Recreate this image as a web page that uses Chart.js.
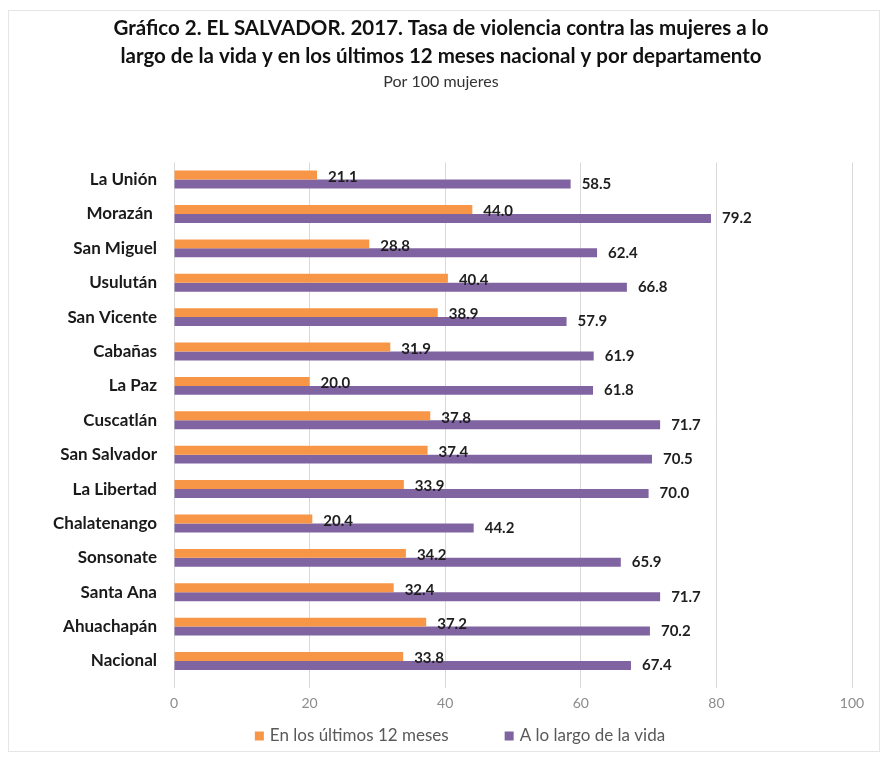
<!DOCTYPE html>
<html>
<head>
<meta charset="utf-8">
<script src="https://cdn.jsdelivr.net/npm/chart.js@4/dist/chart.umd.min.js"></script>
<style>
html,body{margin:0;padding:0;background:#fff;}
#wrap{position:absolute;left:0;top:0;width:885px;height:757px;}
#frame{position:absolute;left:8px;top:10px;width:870px;height:740px;border:1px solid #e6e6e6;pointer-events:none;}
</style>
</head>
<body>
<div id="wrap"><canvas id="c" width="885" height="757"></canvas></div>
<div id="frame"></div>
<script>
const categories = ["La Unión","Morazán ","San Miguel","Usulután","San Vicente","Cabañas","La Paz","Cuscatlán","San Salvador","La Libertad","Chalatenango","Sonsonate","Santa Ana","Ahuachapán","Nacional"];
const last12 = [21.1,44.0,28.8,40.4,38.9,31.9,20.0,37.8,37.4,33.9,20.4,34.2,32.4,37.2,33.8];
const lifetime = [58.5,79.2,62.4,66.8,57.9,61.9,61.8,71.7,70.5,70.0,44.2,65.9,71.7,70.2,67.4];
const seriesNames = ["En los últimos 12 meses","A lo largo de la vida"];
const xTicks = [0,20,40,60,80,100];
const titleLines = ["Gráfico 2. EL SALVADOR. 2017. Tasa de violencia contra las mujeres a lo","largo de la vida y en los últimos 12 meses nacional y por departamento"];
const subtitleText = "Por 100 mujeres";

const FONT = "Lato, 'Liberation Sans', sans-serif";

const labelPlugin = {
  id: 'valLabels',
  afterDatasetsDraw(chart) {
    const ctx = chart.ctx;
    ctx.save();
    ctx.font = "bold 15px " + FONT;
    ctx.fillStyle = "#1e1e1e";
    ctx.textAlign = "left";
    ctx.textBaseline = "middle";
    chart.data.datasets.forEach((ds, di) => {
      const meta = chart.getDatasetMeta(di);
      meta.data.forEach((el, i) => {
        const v = ds.data[i];
        const dy = di === 0 ? 2 : 0;
        ctx.fillText(v.toFixed(1), el.x + 11, el.y + dy);
      });
    });
    ctx.restore();
  }
};

const legendPlugin = {
  id: 'customLegend',
  afterDraw(chart) {
    const ctx = chart.ctx;
    ctx.save();
    ctx.font = "17px " + FONT;
    ctx.textBaseline = "middle";
    ctx.textAlign = "left";
    const box = 9, gap = 6, itemGap = 56, cy = 736;
    const ds = chart.data.datasets;
    const widths = ds.map(d => box + gap + ctx.measureText(d.label).width);
    const total = widths.reduce((a, b) => a + b, 0) + itemGap * (ds.length - 1);
    let x = 460 - total / 2;
    ds.forEach((d, i) => {
      ctx.fillStyle = d.backgroundColor;
      ctx.fillRect(x, cy - box / 2, box, box);
      ctx.fillStyle = '#595959';
      ctx.fillText(d.label, x + box + gap, cy);
      x += widths[i] + itemGap;
    });
    ctx.restore();
  }
};

new Chart(document.getElementById('c'), {
  type: 'bar',
  data: {
    labels: categories,
    datasets: [
      {label: seriesNames[0], data: last12, backgroundColor: '#F79646', categoryPercentage: 0.52, barPercentage: 1.0},
      {label: seriesNames[1], data: lifetime, backgroundColor: '#8064A2', categoryPercentage: 0.52, barPercentage: 1.0}
    ]
  },
  options: {
    indexAxis: 'y',
    responsive: false,
    animation: false,
    devicePixelRatio: 1,
    layout: {padding: {left: 30, right: 33, top: 0, bottom: 38}},
    scales: {
      x: {
        min: 0, max: 100,
        afterBuildTicks: (s) => { s.ticks = xTicks.map(v => ({value: v})); },
        grid: {color: '#d9d9d9', drawTicks: true, tickLength: 10},
        border: {display: false},
        ticks: {color: '#8c8c8c', font: {family: FONT, size: 14}, padding: 7}
      },
      y: {
        afterFit: (s) => { s.width = 144; },
        grid: {display: false, drawTicks: false},
        border: {display: false},
        ticks: {color: '#1a1a1a', font: {family: FONT, size: 17, weight: 'bold'}, padding: 17, autoSkip: false}
      }
    },
    plugins: {
      title: {
        display: true,
        text: titleLines,
        color: '#111',
        font: {family: FONT, size: 20.5, weight: 'bold', lineHeight: 1.37},
        padding: {top: 14, bottom: 0}
      },
      subtitle: {
        display: true,
        text: subtitleText,
        color: '#333',
        font: {family: FONT, size: 16, lineHeight: 1.2},
        padding: {top: 2, bottom: 71}
      },
      legend: {display: false},
      tooltip: {enabled: false}
    }
  },
  plugins: [labelPlugin, legendPlugin]
});
</script>
</body>
</html>
